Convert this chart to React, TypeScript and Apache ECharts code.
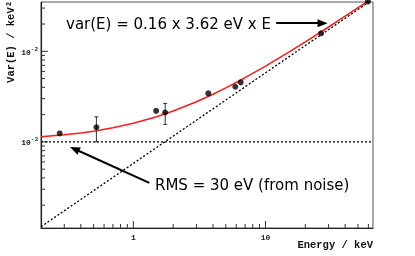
import React, { useEffect, useRef } from "react";
import * as echarts from "echarts";

// Measured points (energy in keV, variance in keV^2)
const energies = [0.277, 0.525, 1.487, 1.74, 3.69, 5.9, 6.49, 26.3, 59.5];
const variances = [1.24e-3, 1.45e-3, 2.2e-3, 2.11e-3, 3.43e-3, 4.06e-3, 4.54e-3, 1.58e-2, 3.54e-2];

// Error bars visible in the picture
const errEnergies = [0.525, 1.74];
const errLow = [1.0e-3, 1.56e-3];
const errHigh = [1.89e-3, 2.66e-3];

// Red fit curve
const fitEnergies = [0.2, 0.3, 0.4, 0.5, 0.7, 1, 1.5, 2, 3, 4, 5, 7, 10, 15, 20, 30, 40, 60];
const fitVariances = [1.137e-3, 1.195e-3, 1.254e-3, 1.312e-3, 1.429e-3, 1.604e-3, 1.896e-3, 2.188e-3, 2.772e-3, 3.356e-3, 3.94e-3, 5.108e-3, 6.86e-3, 9.78e-3, 1.27e-2, 1.854e-2, 2.438e-2, 3.606e-2];

// Dotted reference lines
const noiseLine = [[0.2, 1e-3], [65, 1e-3]];
const fanoLine = [[0.2, 1.158e-4], [65, 3.76e-2]];

// Axis ranges
const xMin = 0.2, xMax = 65;
const yMin = 1.12e-4, yMax = 0.035;

// Tick positions
const xDecades = [0.1, 1, 10];
const yDecades = [1e-4, 1e-3, 1e-2];
const multipliers = [1, 2, 3, 4, 5, 6, 7, 8, 9];

// Arrow annotations (data coordinates: tail, head centre)
const arrowTop = [[12.05, 0.0204], [27.0, 0.0204]];
const arrowBottom = [[1.32, 3.52e-4], [0.359, 8.35e-4]];

const annotationTop = "var(E) = 0.16 x 3.62 eV x E";
const annotationBottom = "RMS = 30 eV (from noise)";

export default function App() {
  const ref = useRef<HTMLDivElement>(null);
  useEffect(() => {
    if (!ref.current) return;
    const chart = echarts.init(ref.current, null, { renderer: "svg" });

    const xTicks: number[][] = [];
    xDecades.forEach((d) =>
      multipliers.forEach((m) => {
        const v = +(m * d).toPrecision(3);
        if (v > xMin * 1.001 && v < xMax) xTicks.push([v, 1e-3, m === 1 ? 1 : 0]);
      })
    );
    const yTicks: number[][] = [];
    yDecades.forEach((d) =>
      multipliers.forEach((m) => {
        const v = +(m * d).toPrecision(3);
        if (v > yMin && v < yMax) yTicks.push([1, v, m === 1 ? 1 : 0]);
      })
    );

    const isDecade = (v: number) => Math.abs(Math.log10(v) - Math.round(Math.log10(v))) < 1e-6;
    const mono = "'Liberation Mono', 'DejaVu Sans Mono', monospace";
    const sans = "'DejaVu Sans', sans-serif";

    chart.setOption({
      animation: false,
      grid: {
        left: 41,
        top: 2,
        width: 332,
        height: 226,
        show: true,
        borderColor: "#555",
        borderWidth: 1,
        backgroundColor: "transparent",
      },
      xAxis: {
        type: "log",
        min: xMin,
        max: xMax,
        axisLine: { show: true, lineStyle: { color: "#222", width: 1.2 } },
        axisTick: { show: false },
        splitLine: { show: false },
        axisLabel: {
          interval: 0,
          showMinLabel: false,
          showMaxLabel: false,
          margin: 5,
          fontFamily: mono,
          fontWeight: "bold",
          fontSize: 8,
          color: "#222",
          formatter: (v: number) => (isDecade(v) ? String(Math.round(v)) : ""),
        },
      },
      yAxis: {
        type: "log",
        min: yMin,
        max: yMax,
        axisLine: { show: true, lineStyle: { color: "#222", width: 1.2 } },
        axisTick: { show: false },
        splitLine: { show: false },
        axisLabel: {
          interval: 0,
          showMinLabel: false,
          showMaxLabel: false,
          margin: 3,
          color: "#222",
          formatter: (v: number) =>
            isDecade(v) ? `{b|10}{s|${Math.round(Math.log10(v))}}` : "",
          rich: {
            b: { fontFamily: mono, fontWeight: "bold", fontSize: 8, lineHeight: 10, verticalAlign: "bottom", color: "#222" },
            s: { fontFamily: mono, fontWeight: "bold", fontSize: 6, lineHeight: 6, verticalAlign: "top", color: "#222" },
          },
        },
      },
      graphic: [
        {
          type: "text",
          x: 11,
          y: 1,
          rotation: Math.PI / 2,
          style: {
            text: "Var(E) / keV²",
            fontFamily: mono,
            fontWeight: "bold",
            fontSize: 10.5,
            fill: "#111",
            align: "right",
            verticalAlign: "middle",
          },
        },
        {
          type: "text",
          x: 373,
          y: 245,
          style: {
            text: "Energy / keV",
            fontFamily: mono,
            fontWeight: "bold",
            fontSize: 10.5,
            fill: "#111",
            align: "right",
            verticalAlign: "middle",
          },
        },
        {
          type: "text",
          x: 66,
          y: 24,
          style: {
            text: annotationTop,
            fontFamily: sans,
            fontSize: 15,
            fill: "#000",
            align: "left",
            verticalAlign: "middle",
          },
        },
        {
          type: "text",
          x: 155,
          y: 185,
          style: {
            text: annotationBottom,
            fontFamily: sans,
            fontSize: 15,
            fill: "#000",
            align: "left",
            verticalAlign: "middle",
          },
        },
      ],
      series: [
        {
          type: "line",
          data: noiseLine,
          symbol: "none",
          lineStyle: { color: "#000", width: 1.3, type: [2, 2] },
          silent: true,
          z: 2,
          markLine: {
            silent: true,
            symbol: ["none", "triangle"],
            symbolSize: [8, 10],
            label: { show: false },
            lineStyle: { color: "#000", width: 2, type: "solid" },
            data: [
              [{ coord: arrowTop[0] }, { coord: arrowTop[1] }],
              [{ coord: arrowBottom[0] }, { coord: arrowBottom[1] }],
            ],
          },
        },
        {
          type: "line",
          data: fanoLine,
          symbol: "none",
          lineStyle: { color: "#000", width: 1.3, type: [2, 2] },
          silent: true,
          z: 2,
        },
        {
          type: "line",
          data: fitEnergies.map((e, i) => [e, fitVariances[i]]),
          symbol: "none",
          lineStyle: { color: "#ff1a1a", width: 1.5 },
          silent: true,
          z: 3,
        },
        {
          type: "custom",
          data: errEnergies.map((e, i) => [e, errLow[i], errHigh[i]]),
          encode: { x: 0, y: [1, 2] },
          z: 4,
          renderItem: (params: any, api: any) => {
            const lo = api.coord([api.value(0), api.value(1)]);
            const hi = api.coord([api.value(0), api.value(2)]);
            const c = 2;
            const st = { stroke: "#333", lineWidth: 1 };
            return {
              type: "group",
              children: [
                { type: "line", shape: { x1: lo[0], y1: lo[1], x2: hi[0], y2: hi[1] }, style: st },
                { type: "line", shape: { x1: lo[0] - c, y1: lo[1], x2: lo[0] + c, y2: lo[1] }, style: st },
                { type: "line", shape: { x1: hi[0] - c, y1: hi[1], x2: hi[0] + c, y2: hi[1] }, style: st },
              ],
            };
          },
        },
        {
          type: "scatter",
          data: energies.map((e, i) => [e, variances[i]]),
          symbol: "circle",
          symbolSize: 6,
          itemStyle: { color: "#000" },
          z: 5,
          clip: false,
        },
        {
          type: "custom",
          data: xTicks,
          encode: { x: 0, y: 1 },
          silent: true,
          z: 6,
          renderItem: (params: any, api: any) => {
            const p = api.coord([api.value(0), api.value(1)]);
            const cs = params.coordSys;
            const bottom = cs.y + cs.height;
            const len = api.value(2) ? 7 : 4;
            return {
              type: "line",
              shape: { x1: p[0], y1: bottom, x2: p[0], y2: bottom - len },
              style: { stroke: "#333", lineWidth: 1 },
            };
          },
        },
        {
          type: "custom",
          data: yTicks,
          encode: { x: 0, y: 1 },
          silent: true,
          z: 6,
          renderItem: (params: any, api: any) => {
            const p = api.coord([api.value(0), api.value(1)]);
            const cs = params.coordSys;
            const left = cs.x;
            const len = api.value(2) ? 7 : 4;
            return {
              type: "line",
              shape: { x1: left, y1: p[1], x2: left + len, y2: p[1] },
              style: { stroke: "#333", lineWidth: 1 },
            };
          },
        },
      ],
    });
    return () => chart.dispose();
  }, []);
  return (
    <div
      ref={ref}
      style={{ position: "fixed", left: 0, top: 0, width: 415, height: 256 }}
    />
  );
}
